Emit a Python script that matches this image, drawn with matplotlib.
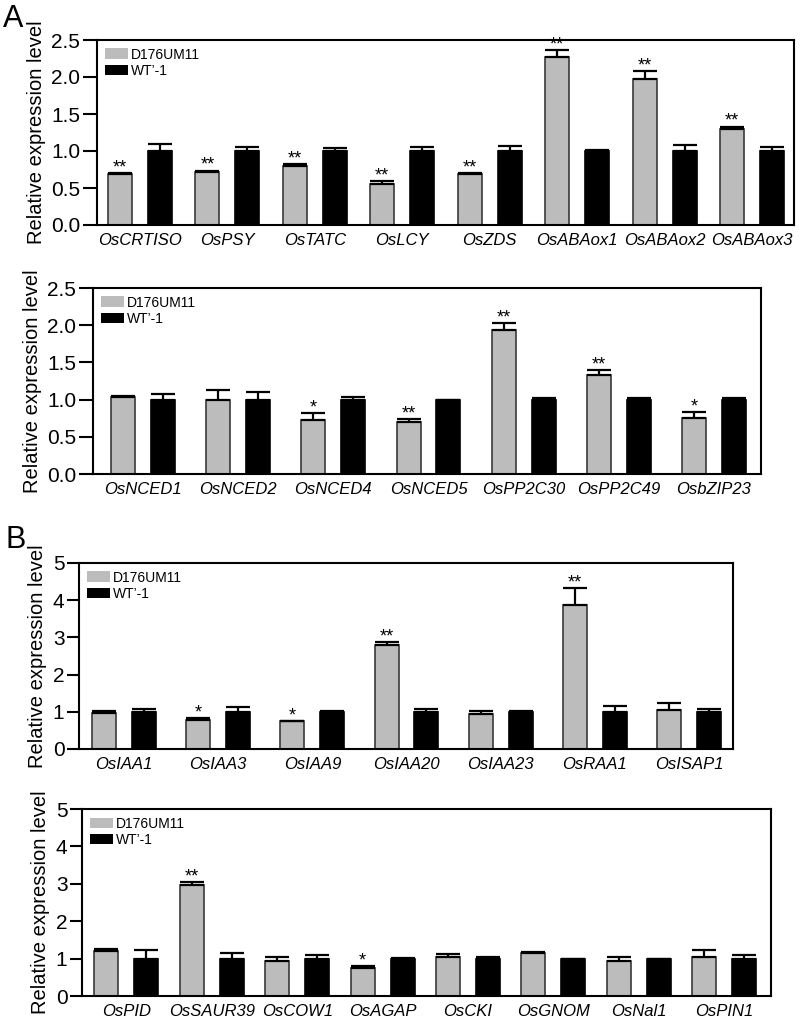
import matplotlib
matplotlib.use("Agg")
import matplotlib.pyplot as plt
from matplotlib.patches import Patch
import numpy as np

plt.rcParams['font.family'] = ['Liberation Sans', 'DejaVu Sans']

# panel A top
genes_a1 = ['OsCRTISO', 'OsPSY', 'OsTATC', 'OsLCY', 'OsZDS', 'OsABAox1', 'OsABAox2', 'OsABAox3']
mut_a1 = [0.69, 0.71, 0.80, 0.56, 0.69, 2.27, 1.97, 1.30]
mut_err_a1 = [0.01, 0.025, 0.02, 0.03, 0.01, 0.09, 0.11, 0.03]
wt_a1 = [1.0, 1.0, 1.0, 1.0, 1.0, 1.0, 1.0, 1.0]
wt_err_a1 = [0.09, 0.06, 0.04, 0.05, 0.07, 0.01, 0.08, 0.05]
sig_a1 = ['**', '**', '**', '**', '**', '**', '**', '**']

# panel A bottom
genes_a2 = ['OsNCED1', 'OsNCED2', 'OsNCED4', 'OsNCED5', 'OsPP2C30', 'OsPP2C49', 'OsbZIP23']
mut_a2 = [1.03, 1.0, 0.73, 0.70, 1.94, 1.33, 0.75]
mut_err_a2 = [0.02, 0.13, 0.09, 0.035, 0.09, 0.07, 0.08]
wt_a2 = [1.0, 1.0, 1.0, 1.0, 1.0, 1.0, 1.0]
wt_err_a2 = [0.07, 0.10, 0.03, 0.0, 0.02, 0.02, 0.02]
sig_a2 = ['', '', '*', '**', '**', '**', '*']

# panel B top
genes_b1 = ['OsIAA1', 'OsIAA3', 'OsIAA9', 'OsIAA20', 'OsIAA23', 'OsRAA1', 'OsISAP1']
mut_b1 = [0.96, 0.79, 0.74, 2.80, 0.95, 3.88, 1.05]
mut_err_b1 = [0.07, 0.03, 0.01, 0.08, 0.07, 0.44, 0.20]
wt_b1 = [1.0, 1.0, 1.0, 1.0, 1.0, 1.0, 1.0]
wt_err_b1 = [0.08, 0.13, 0.01, 0.07, 0.01, 0.16, 0.07]
sig_b1 = ['', '*', '*', '**', '', '**', '']

# panel B bottom
genes_b2 = ['OsPID', 'OsSAUR39', 'OsCOW1', 'OsAGAP', 'OsCKI', 'OsGNOM', 'OsNal1', 'OsPIN1']
mut_b2 = [1.20, 2.97, 0.94, 0.76, 1.03, 1.16, 0.94, 1.03]
mut_err_b2 = [0.07, 0.08, 0.11, 0.03, 0.10, 0.02, 0.10, 0.20]
wt_b2 = [1.0, 1.0, 1.0, 1.0, 1.0, 1.0, 1.0, 1.0]
wt_err_b2 = [0.22, 0.16, 0.09, 0.01, 0.04, 0.0, 0.0, 0.09]
sig_b2 = ['', '**', '', '*', '', '', '', '']

yticks_a = [0.0, 0.5, 1.0, 1.5, 2.0, 2.5]
ytick_labels_a = ['0.0', '0.5', '1.0', '1.5', '2.0', '2.5']
yticks_b = [0, 1, 2, 3, 4, 5]

W, H = 800, 1022
fig = plt.figure(figsize=(W / 100, H / 100), dpi=100)

GRAY = '#bcbcbc'


def draw(box, spacing, lead, trail, genes, mut, mut_err, wt, wt_err, sig, yticks, yticklabels, ticklen):
    left, right, top, bottom = box
    ax = fig.add_axes([left / W, (H - bottom) / H, (right - left) / W, (bottom - top) / H])
    n = len(genes)
    x = np.arange(n)
    off = 20 / spacing
    bw = 24 / spacing
    ax.bar(x - off, mut, bw, color=GRAY, edgecolor='#3a3a3a', linewidth=1.2, zorder=2)
    ax.bar(x + off, wt, bw, color='black', edgecolor='black', linewidth=1.2, zorder=2)
    ax.errorbar(x - off, mut, yerr=[np.zeros(n), mut_err], fmt='none', ecolor='black',
                elinewidth=1.6, capsize=8.8, capthick=1.6, zorder=3)
    ax.errorbar(x + off, wt, yerr=[np.zeros(n), wt_err], fmt='none', ecolor='black',
                elinewidth=1.6, capsize=8.8, capthick=1.6, zorder=3)
    for i in range(n):
        if sig[i]:
            ax.annotate(sig[i], (x[i] - off, mut[i] + mut_err[i]), xytext=(0, 0.5),
                        textcoords='offset points', ha='center', va='baseline', fontsize=13)
    ax.set_xlim(-lead / spacing, n - 1 + trail / spacing)
    ax.set_ylim(yticks[0], yticks[-1])
    ax.set_yticks(yticks)
    ax.set_yticklabels(yticklabels, fontsize=15)
    ax.set_xticks(x)
    ax.set_xticklabels(genes, fontsize=12, style='italic')
    ax.tick_params(axis='x', length=0, pad=6)
    ax.tick_params(axis='y', length=ticklen, width=1.5, pad=2)
    for s in ax.spines.values():
        s.set_linewidth(1.5)
    ax.set_ylabel('Relative expression level', fontsize=14.5, labelpad=4)
    handles = [Patch(facecolor=GRAY, edgecolor='none'), Patch(facecolor='black', edgecolor='none')]
    ax.legend(handles, ['D176UM11', 'WT\u2019-1'], loc='upper left', frameon=False, fontsize=10,
              handlelength=1.7, handleheight=0.8, handletextpad=0.2, labelspacing=0.15,
              borderaxespad=0.25, borderpad=0.3)
    return ax


draw((97, 794, 40, 225), 87.4, 43, 42, genes_a1, mut_a1, mut_err_a1, wt_a1, wt_err_a1, sig_a1,
     yticks_a, ytick_labels_a, 10)
draw((93, 761, 288, 474), 95.2, 50, 47, genes_a2, mut_a2, mut_err_a2, wt_a2, wt_err_a2, sig_a2,
     yticks_a, ytick_labels_a, 10)
draw((79, 733, 563, 749), 94.2, 45, 44, genes_b1, mut_b1, mut_err_b1, wt_b1, wt_err_b1, sig_b1,
     yticks_b, [str(v) for v in yticks_b], 8.5)
draw((82, 771, 809, 996), 85.4, 44.5, 47, genes_b2, mut_b2, mut_err_b2, wt_b2, wt_err_b2, sig_b2,
     yticks_b, [str(v) for v in yticks_b], 8.5)

fig.text(3 / W, 1 - 27 / H, 'A', fontsize=22)
fig.text(5 / W, 1 - 548 / H, 'B', fontsize=22)

fig.savefig('out.png', dpi=100)
